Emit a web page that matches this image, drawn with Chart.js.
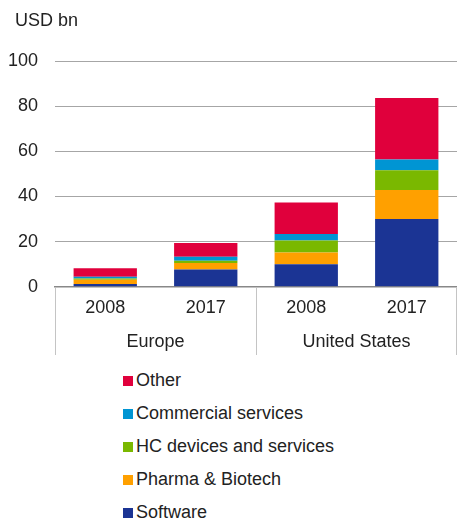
<!DOCTYPE html>
<html>
<head>
<meta charset="utf-8">
<script src="https://cdn.jsdelivr.net/npm/chart.js@4.4.1/dist/chart.umd.min.js"></script>
<style>
  html, body { margin: 0; padding: 0; background: #fff; }
  #wrap { position: relative; width: 457px; height: 523px; }
  #chartBox { position: absolute; left: 0; top: 0; width: 457px; height: 364px; }
  #legend { position: absolute; left: 123px; top: 364px; font-family: "Liberation Sans", Arial, sans-serif; font-size: 18px; color: #222; }
  #legend .item { height: 33px; display: flex; align-items: center; }
  #legend .box { width: 10px; height: 10px; margin-right: 3px; }
</style>
</head>
<body>
<div id="wrap">
  <div id="chartBox"><canvas id="vcChart"></canvas></div>
  <div id="legend"></div>
</div>
<script>
// Categories
const years = ['2008', '2017', '2008', '2017'];
const regions = ['Europe', 'United States'];

// Investment by sector, USD bn
const software = [1.2, 7.7, 10.0, 30.0];
const pharma = [1.9, 2.8, 5.2, 12.9];
const hcDevices = [0.6, 1.0, 5.3, 8.7];
const commercial = [0.8, 1.8, 2.9, 4.8];
const other = [3.7, 6.1, 13.9, 27.2];

const yTicks = [0, 20, 40, 60, 80, 100];
const unitLabel = 'USD bn';

const FONT = "'Liberation Sans', Arial, sans-serif";

// unit text above the value axis
const unitText = {
  id: 'unitText',
  afterDraw(chart) {
    const c = chart.ctx;
    c.save();
    c.fillStyle = '#222';
    c.font = "18px " + FONT;
    c.textBaseline = 'middle';
    c.textAlign = 'left';
    c.fillText(unitLabel, 15, 21);
    c.restore();
  }
};

// vertical lines splitting the region groups under the axis
const groupLines = {
  id: 'groupLines',
  afterDraw(chart) {
    const x = chart.scales.x;
    const x2 = chart.scales.x2;
    const c = chart.ctx;
    const mid = (x.getPixelForValue(1) + x.getPixelForValue(2)) / 2;
    c.save();
    c.strokeStyle = '#c4c4c4';
    c.lineWidth = 1;
    [x.left + 0.5, Math.round(mid) + 0.5, x.right - 0.5].forEach(px => {
      c.beginPath();
      c.moveTo(px, x.top + 1);
      c.lineTo(px, x2.bottom - 1);
      c.stroke();
    });
    c.restore();
  }
};

const ctx = document.getElementById('vcChart').getContext('2d');

const chart = new Chart(ctx, {
  type: 'bar',
  data: {
    labels: years,
    datasets: [
      { label: 'Software', data: software, backgroundColor: '#1b3494' },
      { label: 'Pharma & Biotech', data: pharma, backgroundColor: '#ffa000' },
      { label: 'HC devices and services', data: hcDevices, backgroundColor: '#7ab800' },
      { label: 'Commercial services', data: commercial, backgroundColor: '#0095d3' },
      { label: 'Other', data: other, backgroundColor: '#e0003c' }
    ]
  },
  options: {
    responsive: true,
    maintainAspectRatio: false,
    animation: false,
    categoryPercentage: 1,
    barPercentage: 0.63,
    layout: { padding: { left: 8, right: 0, top: 61, bottom: 8 } },
    plugins: {
      legend: { display: false },
      tooltip: { enabled: false },
      title: { display: false }
    },
    scales: {
      x: {
        stacked: true,
        grid: { display: false, drawTicks: false },
        border: { display: true, color: '#888', width: 1.5 },
        ticks: { color: '#222', padding: 10, font: { family: FONT, size: 18 } }
      },
      x2: {
        type: 'category',
        labels: regions,
        position: 'bottom',
        grid: { display: false, drawTicks: false },
        border: { display: false },
        ticks: { color: '#222', padding: 3, font: { family: FONT, size: 18 } }
      },
      y: {
        stacked: true,
        min: 0,
        max: 100,
        afterBuildTicks: axis => { axis.ticks = yTicks.map(v => ({ value: v })); },
        afterFit: axis => { axis.width = 47; },
        grid: { color: '#a6a6a6', drawTicks: false },
        border: { display: false },
        ticks: { color: '#222', padding: 17, font: { family: FONT, size: 18 } }
      }
    }
  },
  plugins: [unitText, groupLines]
});

// Legend list, top entry is the top of the stack
const legendEl = document.getElementById('legend');
chart.data.datasets.slice().reverse().forEach(ds => {
  const item = document.createElement('div');
  item.className = 'item';
  const box = document.createElement('span');
  box.className = 'box';
  box.style.background = ds.backgroundColor;
  const text = document.createElement('span');
  text.textContent = ds.label;
  item.appendChild(box);
  item.appendChild(text);
  legendEl.appendChild(item);
});
</script>
</body>
</html>
